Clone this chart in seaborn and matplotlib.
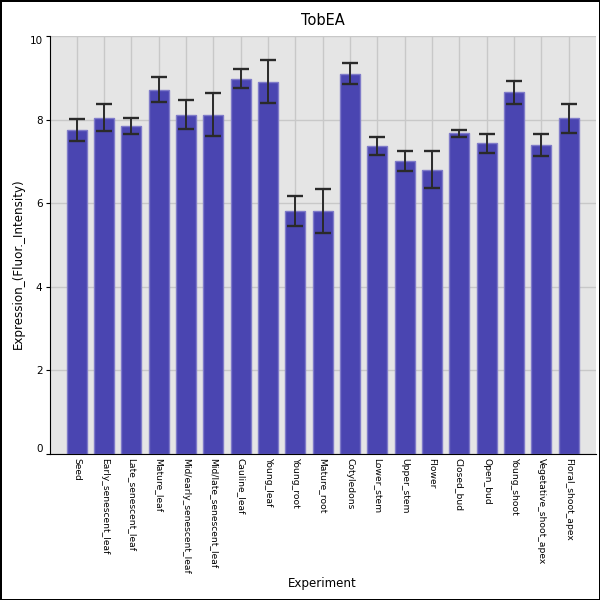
import pandas as pd
import seaborn as sns
import matplotlib.pyplot as plt
import matplotlib.transforms as mtransforms

# -------------------------------------------------------------------
# Data (mean expression and error half-widths)
# -------------------------------------------------------------------
experiments = [
    "Seed", "Early_senescent_leaf", "Late_senescent_leaf", "Mature_leaf",
    "Mid/early_senescent_leaf", "Mid/late_senescent_leaf", "Cauline_leaf",
    "Young_leaf", "Young_root", "Mature_root", "Cotyledons", "Lower_stem",
    "Upper_stem", "Flower", "Closed_bud", "Open_bud", "Young_shoot",
    "Vegetative_shoot_apex", "Floral_shoot_apex",
]
expression = [7.76, 8.05, 7.85, 8.71, 8.12, 8.12, 8.98, 8.91, 5.82, 5.82,
              9.10, 7.37, 7.00, 6.80, 7.67, 7.43, 8.65, 7.40, 8.03]
error = [0.26, 0.33, 0.20, 0.30, 0.35, 0.52, 0.23, 0.51, 0.36, 0.53,
         0.26, 0.22, 0.24, 0.44, 0.09, 0.23, 0.28, 0.26, 0.35]
yticks = [0, 2, 4, 6, 8, 10]

df = pd.DataFrame({"Experiment": experiments,
                   "Expression": expression,
                   "Error": error})

# -------------------------------------------------------------------
# Plot
# -------------------------------------------------------------------
fig = plt.figure(figsize=(6, 6), dpi=100)
fig.patch.set_edgecolor("black")
fig.patch.set_linewidth(2)
ax = fig.add_axes([0.0825, 0.2433, 0.9108, 0.6967])
ax.set_facecolor("#e5e5e5")

sns.barplot(data=df, x="Experiment", y="Expression", color="#4a45b1",
            saturation=1, width=0.73, edgecolor="#7f7bc9", linewidth=1,
            errorbar=None, ax=ax, zorder=2)

# error bars: dark stem, black caps
pos = list(range(len(experiments)))
eb = ax.errorbar(pos, df["Expression"], yerr=df["Error"], fmt="none",
                 ecolor="#2a2a2a", elinewidth=1.4, capsize=5.8,
                 capthick=1.7, zorder=3)
for cap in eb[1]:
    cap.set_color("black")

ax.set_xlim(-1, len(experiments))
ax.set_ylim(0, 10)
ax.set_yticks(yticks)
ax.set_yticklabels([str(t) for t in yticks], fontsize=7.5)
# the end labels sit inside the axis range, as in the reference
ylabels = ax.get_yticklabels()
ylabels[0].set_verticalalignment("bottom")
ylabels[-1].set_verticalalignment("top")
ylabels[-1].set_transform(ylabels[-1].get_transform() +
                          mtransforms.ScaledTranslation(0, -3 / 72,
                                                        fig.dpi_scale_trans))
ax.tick_params(axis="y", length=3, width=0.8, pad=2)
ax.tick_params(axis="x", length=0, pad=3)
plt.setp(ax.get_xticklabels(), rotation=270, fontsize=6.6,
         ha="center", va="top")

ax.grid(True, color="#c8c8c8", linewidth=1, zorder=0)
ax.set_axisbelow(True)
for side in ["top", "right"]:
    ax.spines[side].set_visible(False)
ax.spines["left"].set_color("black")
ax.spines["bottom"].set_color("black")

ax.set_title("TobEA", fontsize=10.5, pad=8)
ax.set_xlabel("")
ax.set_ylabel("")
fig.text(0.537, 0.027, "Experiment", ha="center", va="center", fontsize=8.6)
fig.text(0.03, 0.56, "Expression_(Fluor._Intensity)", rotation=90,
         ha="center", va="center", fontsize=8.6)

fig.savefig("out.png", dpi=100, edgecolor=fig.get_edgecolor())
